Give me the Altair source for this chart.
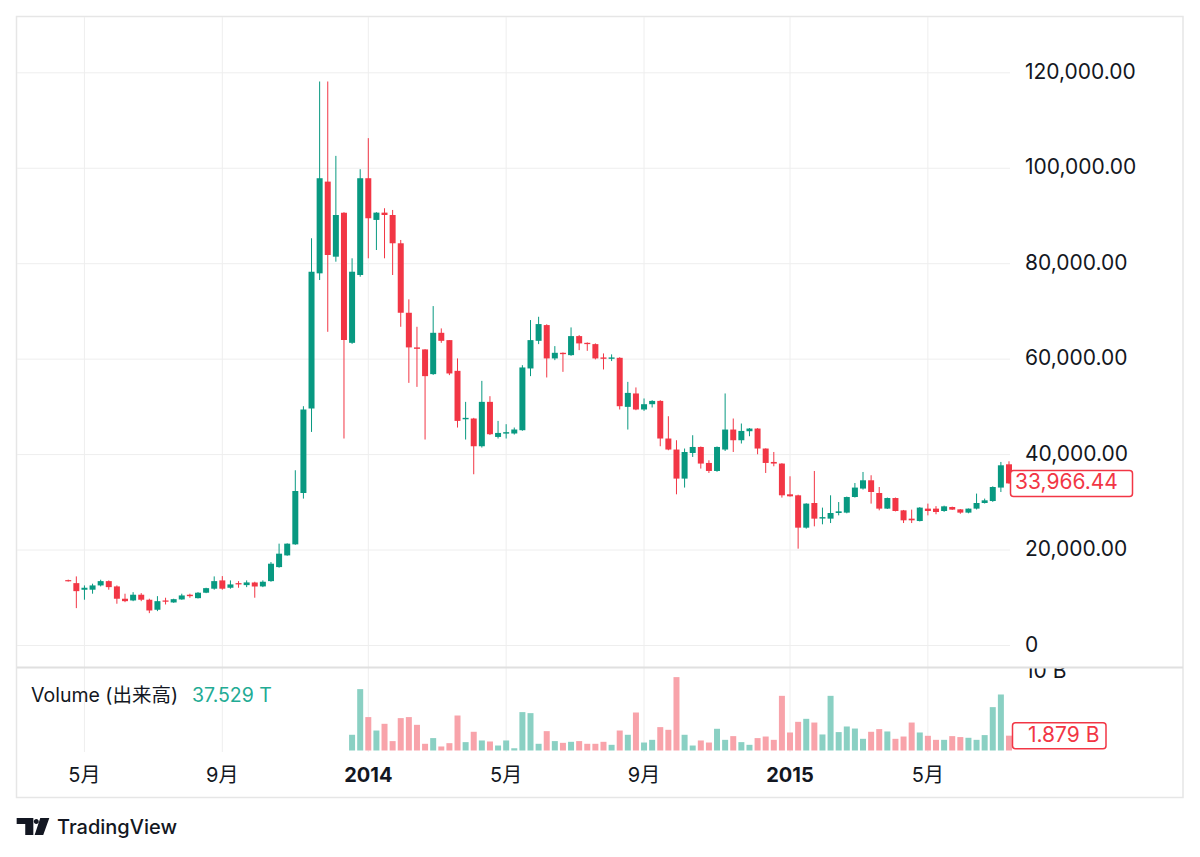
import altair as alt
import pandas as pd

# ---------------- data (weekly candles, k = 0 is the first week of 2014) ----------------
week_index = list(range(-37, 80))

opens = [13700, 13070, 11680, 11690, 12590, 13490, 12380, 9800, 9440, 10640,
         9590, 7490, 9440, 9020, 9650, 10640, 9920, 11060, 11900, 13640,
         12100, 13070, 12650, 13220, 12380, 13490, 16430, 18880, 21190, 31950,
         49660, 77980, 97200, 81470, 90700, 63420, 77630, 97910, 89170, 90700,
         90210, 84280, 69720, 62460, 62040, 56860, 65520, 63990, 57550, 47400,
         47560, 41750, 51050, 43700, 44400, 44420, 45110, 58050, 63840, 67140,
         60150, 61330, 60840, 64830, 63420, 63150, 60360, 60070, 60280, 50000,
         52810, 49450, 50560, 51250, 43370, 41060, 34970, 40340, 41600, 38250,
         36570, 41060, 45250, 43010, 44900, 45460, 41270, 38460, 38120, 31680,
         31470, 24690, 29860, 26600, 26580, 27760, 27840, 31110, 32880, 34620,
         31950, 28680, 30900, 28320, 26580, 26080, 28680, 28680, 28180, 29020,
         28530, 27840, 28680, 29860, 30270, 33090, 37970]

highs = [13800, 14480, 12590, 12950, 13780, 13640, 12590, 10850, 11180, 10970,
         9800, 10340, 10010, 9800, 10850, 10850, 11180, 12100, 14480, 14540,
         13640, 13490, 13640, 13360, 13640, 17480, 21340, 21400, 36720, 50140,
         85330, 118180, 118180, 102590, 90800, 81130, 99800, 106310, 90800, 91620,
         91260, 84970, 72530, 66780, 62100, 71120, 66440, 64000, 60150, 51050,
         47700, 55450, 52240, 47060, 46370, 45670, 58740, 68190, 68880, 67300,
         62730, 61400, 66650, 65040, 63500, 63300, 61200, 61000, 60400, 55240,
         54070, 51760, 51400, 51400, 48040, 43010, 41270, 44060, 41700, 38810,
         41700, 52810, 47560, 46510, 45550, 45550, 41300, 40550, 38200, 35460,
         31600, 29800, 36570, 28890, 31470, 30060, 31200, 34050, 36360, 35670,
         33210, 31000, 31000, 28400, 28470, 29000, 29730, 29200, 29300, 29100,
         28600, 28700, 31830, 30780, 33350, 38460, 38600]

lows = [13400, 7830, 9590, 10850, 12380, 11690, 8750, 9080, 9290, 9290,
        6780, 7200, 8600, 8950, 9590, 10010, 9850, 10970, 11690, 11690,
        11900, 12100, 12230, 10010, 12230, 13360, 16300, 18800, 21100, 30780,
        44750, 76580, 65730, 80420, 43370, 63200, 77270, 81130, 82870, 81130,
        77630, 66780, 55030, 54190, 43160, 56700, 63420, 56650, 45670, 43160,
        35880, 41480, 44100, 43370, 43370, 44200, 45000, 56440, 63150, 56160,
        59790, 57340, 60700, 61890, 61740, 59940, 57840, 59600, 49450, 45250,
        49300, 49160, 49870, 41750, 40910, 31680, 33090, 39510, 37070, 36150,
        36400, 40760, 40550, 42320, 43850, 40070, 36150, 37550, 30990, 31200,
        20290, 24480, 24970, 25390, 25660, 27270, 27700, 31000, 32670, 29730,
        28320, 28600, 28100, 25660, 25660, 26000, 27270, 27500, 28000, 28400,
        27600, 27700, 28500, 29750, 30100, 32160, 33900]

closes = [13450, 11390, 12100, 12590, 13490, 12230, 9800, 9290, 10640, 9590,
          7340, 9290, 9170, 9710, 10490, 10340, 11060, 12020, 13490, 11900,
          12800, 12800, 13220, 12380, 13360, 17140, 19240, 21340, 32370, 49450,
          78320, 97910, 81820, 90210, 63990, 78320, 97910, 89520, 90700, 90210,
          84280, 69720, 62460, 62160, 56440, 65520, 63840, 57000, 47060, 47700,
          41750, 51050, 44270, 44540, 44700, 45250, 58260, 63990, 67350, 60150,
          61330, 61050, 64830, 63300, 63150, 60150, 60070, 60360, 50140, 52930,
          49450, 50560, 51250, 43370, 41060, 34970, 40550, 41600, 38120, 36570,
          41600, 45250, 43010, 44960, 45460, 41270, 38250, 38120, 31470, 31260,
          24690, 29730, 26580, 26900, 27760, 28110, 31110, 33090, 34620, 32160,
          28680, 30900, 28180, 26230, 26230, 28890, 28180, 27970, 29160, 28470,
          27840, 28680, 29860, 30420, 33210, 37760, 33966.44]

# volume in billions (no volume data before mid-December 2013)
volume_b = [None] * 35 + [
    1.99, 7.77, 4.23, 2.53, 3.38, 1.19, 4.10, 4.23, 3.25, 0.85,
    1.57, 0.51, 0.93, 4.43, 1.06, 2.37, 1.27, 1.14, 0.63, 1.27,
    0.30, 4.86, 4.73, 0.85, 2.45, 1.19, 0.97, 1.10, 1.19, 0.85,
    0.85, 1.10, 0.72, 2.53, 1.99, 4.81, 1.01, 1.35, 2.96, 2.62,
    9.29, 1.99, 0.63, 1.27, 1.01, 2.75, 1.35, 1.82, 1.06, 0.72,
    1.57, 1.77, 1.35, 6.92, 2.28, 3.63, 4.01, 3.54, 2.03, 6.92,
    2.33, 3.04, 2.78, 1.48, 2.37, 2.71, 2.41, 1.48, 1.77, 3.54,
    2.28, 1.86, 1.35, 1.35, 1.82, 1.70, 1.61, 1.35, 1.95, 5.49,
    7.09, 1.879]

price_ticks = [0, 20000, 40000, 60000, 80000, 100000, 120000]
price_tick_labels = ["0", "20,000.00", "40,000.00", "60,000.00", "80,000.00",
                     "100,000.00", "120,000.00"]

time_tick_k = [-35, -18, 0, 17, 34, 52, 69]
time_tick_labels = ["5月", "9月", "2014", "5月", "9月", "2015", "5月"]
time_tick_is_year = [False, False, True, False, False, True, False]

volume_legend_title = "Volume (出来高)"
volume_legend_value = "37.529 T"
volume_scale_label = "10 B"

# ---------------- styling ----------------
W, H = 1200, 850
FONT = "Inter, 'Noto Sans CJK JP', sans-serif"
TEXT = "#131722"
GREEN = "#089981"
RED = "#F23645"
VOL_GREEN = "#8ad0c3"
VOL_RED = "#f8a3aa"
GRID = "#eeeeee"
BORDER = "#e6e6e6"
AXIS_FS = 21

X0, STEP = 368.3, 8.11
x_scale = alt.Scale(domain=[-37, 79], range=[X0 - 37 * STEP, X0 + 79 * STEP])
price_scale = alt.Scale(domain=[0, 120000], range=[645.5, 72.8])
vol_scale = alt.Scale(domain=[0, 10], range=[750.5, 671.5])

df = pd.DataFrame({"k": week_index, "open": opens, "high": highs, "low": lows,
                   "close": closes, "vol": volume_b})
ticks_df = pd.DataFrame({"value": price_ticks, "label": price_tick_labels})
tdf = pd.DataFrame({"k": time_tick_k, "label": time_tick_labels, "year": time_tick_is_year})
one = pd.DataFrame({"z": [0]})

X = alt.X("k:Q", scale=x_scale, axis=None)
up = "datum.close >= datum.open"

frame = alt.Chart(one).mark_rect(fill="white", stroke=BORDER, strokeWidth=1.5).encode(
    x=alt.value(16.5), x2=alt.value(1183), y=alt.value(16.5), y2=alt.value(797.5))

vgrid = alt.Chart(tdf).mark_rule(color=GRID, strokeWidth=1).encode(
    x=X, y=alt.value(17), y2=alt.value(752))

hgrid = alt.Chart(ticks_df).mark_rule(color=GRID, strokeWidth=1).encode(
    y=alt.Y("value:Q", scale=price_scale, axis=None), x=alt.value(17), x2=alt.value(1010))

base = alt.Chart(df)
wicks = base.mark_rule(strokeWidth=1).encode(
    x=X,
    y=alt.Y("low:Q", scale=price_scale, axis=None),
    y2="high:Q",
    color=alt.condition(up, alt.value(GREEN), alt.value(RED)))

bodies = base.mark_rect(xOffset=-3, x2Offset=3).encode(
    x=X, x2="k:Q",
    y=alt.Y("open:Q", scale=price_scale, axis=None),
    y2="close:Q",
    color=alt.condition(up, alt.value(GREEN), alt.value(RED)))

volume = base.transform_filter("isValid(datum.vol)").mark_rect(xOffset=-3, x2Offset=3).encode(
    x=X, x2="k:Q",
    y=alt.Y("vol:Q", scale=vol_scale, axis=None),
    y2=alt.datum(0),
    color=alt.condition(up, alt.value(VOL_GREEN), alt.value(VOL_RED)))

price_labels = alt.Chart(ticks_df).mark_text(
    align="left", baseline="middle", font=FONT, fontSize=AXIS_FS, color=TEXT).encode(
    x=alt.value(1025), y=alt.Y("value:Q", scale=price_scale, axis=None), text="label:N")

tl_normal = alt.Chart(tdf).transform_filter("!datum.year").mark_text(
    align="center", baseline="middle", font=FONT, fontSize=20, color=TEXT).encode(
    x=X, y=alt.value(776), text="label:N")
tl_bold = alt.Chart(tdf).transform_filter("datum.year").mark_text(
    align="center", baseline="middle", font=FONT, fontSize=20, fontWeight="bold", color=TEXT).encode(
    x=X, y=alt.value(776), text="label:N")

vol_tick_label = alt.Chart(one).mark_text(
    text=volume_scale_label, align="left", baseline="middle", font=FONT, fontSize=AXIS_FS, color=TEXT).encode(
    x=alt.value(1025), y=alt.value(671.5))
cover = alt.Chart(one).mark_rect(fill="white").encode(
    x=alt.value(1011), x2=alt.value(1182), y=alt.value(656), y2=alt.value(667))
separator = alt.Chart(one).mark_rule(color="#e0e0e0", strokeWidth=2).encode(
    x=alt.value(17), x2=alt.value(1183), y=alt.value(667.5))

vol_title = alt.Chart(one).mark_text(
    text=volume_legend_title, align="left", baseline="middle", font=FONT, fontSize=19.5, color=TEXT).encode(
    x=alt.value(31), y=alt.value(696))
vol_value = alt.Chart(one).mark_text(
    text=volume_legend_value, align="left", baseline="middle", font=FONT, fontSize=19.5, color="#22ab94").encode(
    x=alt.value(192), y=alt.value(696))

last = df.iloc[[-1]]
last_box = alt.Chart(last).mark_rect(
    fill="white", stroke=RED, strokeWidth=1.5, cornerRadius=3, yOffset=-13, y2Offset=13).encode(
    x=alt.value(1010.5), x2=alt.value(1132.5),
    y=alt.Y("close:Q", scale=price_scale, axis=None), y2="close:Q")
last_text = alt.Chart(last).mark_text(
    align="left", baseline="middle", font=FONT, fontSize=AXIS_FS, color=RED).encode(
    x=alt.value(1015), y=alt.Y("close:Q", scale=price_scale, axis=None),
    text=alt.Text("close:Q", format=",.2f"))

vol_box = alt.Chart(last).mark_rect(
    fill="white", stroke=RED, strokeWidth=1.5, cornerRadius=3, yOffset=-13, y2Offset=13).encode(
    x=alt.value(1012.5), x2=alt.value(1106),
    y=alt.Y("vol:Q", scale=vol_scale, axis=None), y2="vol:Q")
vol_text = alt.Chart(last).transform_calculate(
    lbl="format(datum.vol, '.3f') + ' B'").mark_text(
    align="left", baseline="middle", font=FONT, fontSize=AXIS_FS, color=RED).encode(
    x=alt.value(1028), y=alt.Y("vol:Q", scale=vol_scale, axis=None), text="lbl:N")

logo_path = ("M -0.99 -0.515 L 0.02 -0.515 L 0.02 0.515 L -0.47 0.515 L -0.47 -0.15 L -0.99 -0.15 Z "
             "M 0.05 -0.3 A 0.15 0.15 0 1 0 0.35 -0.3 A 0.15 0.15 0 1 0 0.05 -0.3 Z "
             "M 0.44 -0.515 L 0.99 -0.515 L 0.62 0.515 L 0.1 0.515 Z")
logo = alt.Chart(one).mark_point(
    shape=logo_path, size=1089, filled=True, color=TEXT, opacity=1, strokeWidth=0).encode(
    x=alt.value(33), y=alt.value(826.5))
brand = alt.Chart(one).mark_text(
    text="TradingView", align="left", baseline="middle", font=FONT, fontSize=20,
    fontWeight=500, color=TEXT).encode(x=alt.value(57), y=alt.value(828))

chart = alt.layer(
    frame, vgrid, hgrid, wicks, bodies, volume,
    price_labels, tl_normal, tl_bold,
    vol_tick_label, cover, separator,
    vol_title, vol_value,
    last_box, last_text, vol_box, vol_text,
    logo, brand,
).resolve_scale(y="independent").properties(
    width=W, height=H, autosize=alt.AutoSizeParams(type="none"), padding=0,
    background="white",
).configure_view(stroke=None)

chart.save("out.html", embed_options={"renderer": "svg", "actions": False})
